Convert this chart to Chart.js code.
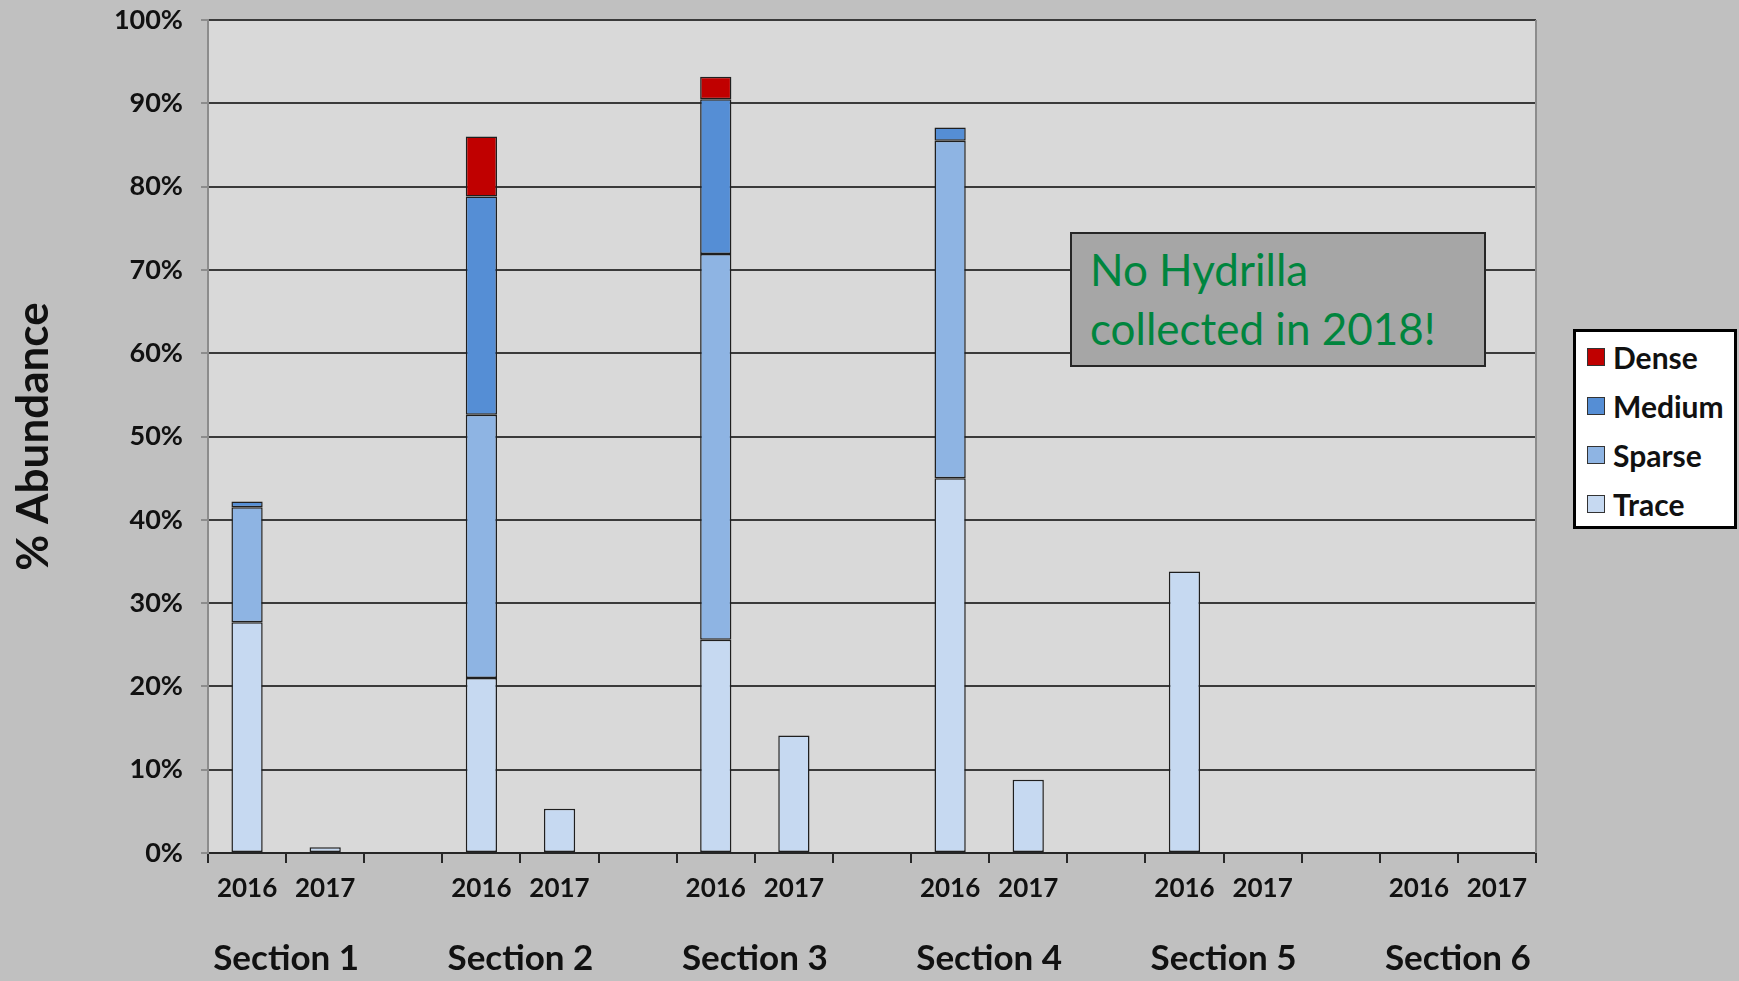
<!DOCTYPE html>
<html lang="en">
<head>
    <meta charset="UTF-8">
    <title>Hydrilla % Abundance by Section</title>
    <script src="https://cdn.jsdelivr.net/npm/chart.js"></script>
    <style>
        body {
            margin: 0;
            background-color: #c0c0c0;
            font-family: Lato, "Open Sans", sans-serif;
        }
        #wrap {
            position: relative;
            width: 1739px;
            height: 981px;
            overflow: hidden;
        }
        #chart {
            position: absolute;
            left: 0;
            top: 0;
        }
        .note {
            position: absolute;
            left: 1070px;
            top: 232px;
            width: 416px;
            height: 135px;
            box-sizing: border-box;
            background: #a6a6a6;
            border: 2px solid #262626;
            color: #00853e;
            font-size: 44px;
            line-height: 59px;
            padding: 6px 0 0 18px;
        }
        .legend {
            position: absolute;
            left: 1573px;
            top: 329px;
            width: 164px;
            height: 200px;
            box-sizing: border-box;
            background: #fff;
            border: 3px solid #000;
            padding-top: 0;
        }
        .legend-item {
            height: 49px;
            display: flex;
            align-items: center;
            padding-left: 11px;
            font-weight: bold;
            font-size: 30px;
            color: #111;
        }
        .legend-item span.sw {
            width: 16px;
            height: 16px;
            border: 1px solid #333;
            margin-right: 8px;
            flex: none;
        }
    </style>
</head>
<body>
<div id="wrap">
    <canvas id="chart" width="1739" height="981"></canvas>
    <div class="note">No Hydrilla<br>collected in 2018!</div>
    <div class="legend" id="legend"></div>
</div>

<script>
    // Datos: 6 secciones, 2016/2017 (+ hueco entre secciones)
    const yearLabels = ['2016', '2017', '', '2016', '2017', '', '2016', '2017', '',
                        '2016', '2017', '', '2016', '2017', '', '2016', '2017'];
    const sections = ['Section 1', 'Section 2', 'Section 3', 'Section 4', 'Section 5', 'Section 6'];

    const trace  = [27.7, 0.7, null, 21.0, 5.3, null, 25.6, 14.1, null, 45.0, 8.8, null, 33.8, 0, null, 0, 0];
    const sparse = [13.8, 0, null, 31.6, 0, null, 46.3, 0, null, 40.5, 0, null, 0, 0, null, 0, 0];
    const medium = [0.7, 0, null, 26.2, 0, null, 18.6, 0, null, 1.6, 0, null, 0, 0, null, 0, 0];
    const dense  = [0, 0, null, 7.2, 0, null, 2.7, 0, null, 0, 0, null, 0, 0, null, 0, 0];

    const seriesNames = ['Trace', 'Sparse', 'Medium', 'Dense'];
    const seriesColors = ['#c6d9f1', '#8eb4e3', '#558ed5', '#c00000'];
    const seriesData = [trace, sparse, medium, dense];

    const FONT = 'Lato';

    // fondo del área del gráfico, borde derecho y nombres de sección
    const plotDecor = {
        id: 'plotDecor',
        beforeDraw(chart) {
            const { ctx, chartArea: a } = chart;
            ctx.save();
            ctx.fillStyle = '#d9d9d9';
            ctx.fillRect(a.left, a.top, a.right - a.left, a.bottom - a.top);
            ctx.restore();
        },
        afterDraw(chart) {
            const { ctx, chartArea: a } = chart;
            const x = chart.scales.x;
            ctx.save();
            ctx.strokeStyle = '#8c8c8c';
            ctx.lineWidth = 2;
            ctx.beginPath();
            ctx.moveTo(a.right, a.top);
            ctx.lineTo(a.right, a.bottom);
            ctx.stroke();

            ctx.fillStyle = '#111';
            ctx.font = 'bold 35px ' + FONT;
            ctx.textAlign = 'center';
            ctx.textBaseline = 'middle';
            sections.forEach((name, i) => {
                const px = (x.getPixelForValue(i * 3) + x.getPixelForValue(i * 3 + 1)) / 2;
                ctx.fillText(name, px, x.bottom - 22);
            });
            ctx.restore();
        }
    };

    const chart = new Chart(document.getElementById('chart'), {
        type: 'bar',
        data: {
            labels: yearLabels,
            datasets: seriesNames.map((name, i) => ({
                label: name,
                data: seriesData[i],
                backgroundColor: seriesColors[i],
                borderColor: '#1f1f1f',
                borderWidth: 1.5,
                borderSkipped: false,
                inflateAmount: 0,
                barPercentage: 0.4,
                categoryPercentage: 1.0
            }))
        },
        options: {
            responsive: false,
            animation: false,
            layout: { padding: { top: 20, right: 203, bottom: 0, left: 0 } },
            plugins: {
                legend: { display: false },
                tooltip: { enabled: false }
            },
            scales: {
                x: {
                    stacked: true,
                    grid: {
                        offset: true,
                        drawOnChartArea: false,
                        color: '#262626',
                        lineWidth: 2,
                        tickLength: 10
                    },
                    border: { color: '#262626', width: 2 },
                    ticks: {
                        autoSkip: false,
                        maxRotation: 0,
                        color: '#111',
                        padding: 10,
                        font: { family: FONT, weight: 'bold', size: 26 }
                    },
                    afterFit(s) { s.height = 128; }
                },
                y: {
                    stacked: true,
                    min: 0,
                    max: 100,
                    ticks: {
                        stepSize: 10,
                        callback: v => v + '%',
                        color: '#111',
                        padding: 18,
                        font: { family: FONT, weight: 'bold', size: 27 }
                    },
                    grid: {
                        color: '#3a3a3a',
                        lineWidth: 2,
                        tickColor: '#8c8c8c',
                        tickLength: 7
                    },
                    border: { color: '#8c8c8c', width: 2 },
                    title: {
                        display: true,
                        text: '% Abundance',
                        color: '#111',
                        padding: { top: 7, bottom: 0 },
                        font: { family: FONT, weight: 'bold', size: 44 }
                    },
                    afterFit(s) {
                        s.width = 208;
                        s.paddingTop = 0;
                        s.paddingBottom = 0;
                    }
                }
            }
        },
        plugins: [plotDecor]
    });

    // leyenda (Dense arriba)
    const legendEl = document.getElementById('legend');
    seriesNames.slice().reverse().forEach((name, i) => {
        const color = seriesColors[seriesNames.length - 1 - i];
        const row = document.createElement('div');
        row.className = 'legend-item';
        row.innerHTML = `<span class="sw" style="background:${color}"></span>${name}`;
        legendEl.appendChild(row);
    });
</script>
</body>
</html>
